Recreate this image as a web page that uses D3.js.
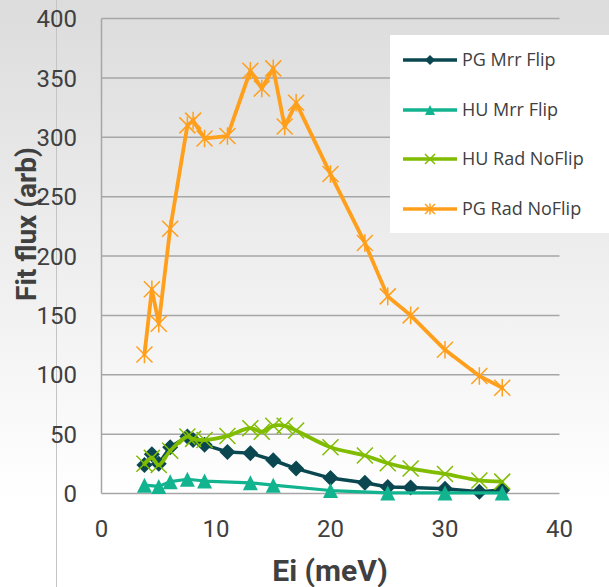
<!DOCTYPE html>
<html><head><meta charset="utf-8">
<script src="https://cdn.jsdelivr.net/npm/d3@7"></script>
<style>html,body{margin:0;padding:0;background:#fff;}svg{display:block;}</style>
</head><body>
<svg id="chart" width="609" height="587"></svg>
<script>
// ---- data ----
const seriesNames = ["PG Mrr Flip", "HU Mrr Flip", "HU Rad NoFlip", "PG Rad NoFlip"];
const pgMrrX = [3.75, 4.4, 5, 6, 7.5, 8, 9, 11, 13, 15, 17, 20, 23, 25, 27, 30, 33, 35];
const pgMrrY = [24, 33, 25, 39, 48, 45, 41, 35, 34, 28, 21, 13, 9, 5.5, 5, 4, 1.5, 3];
const huMrrX = [3.75, 5, 6, 7.5, 9, 13, 15, 20, 25, 30, 35];
const huMrrY = [7, 6, 10, 12, 10.5, 9, 7, 2.5, 0.5, 0.5, 0.5];
const huRadX = [3.75, 4.4, 5, 6, 7.5, 8, 9, 11, 13, 14, 15, 16, 17, 20, 23, 25, 27, 30, 33, 35];
const huRadY = [25, 30, 24, 36, 48, 46, 45, 48.5, 55, 52, 57, 57, 53, 39, 32, 25.5, 21, 16.5, 11, 10];
const pgRadX = [3.75, 4.4, 5, 6, 7.5, 8, 9, 11, 13, 14, 15, 16, 17, 20, 23, 25, 27, 30, 33, 35];
const pgRadY = [117, 172, 143, 223, 310, 314, 299, 301, 356, 341, 358, 309, 329, 269, 211, 166, 150, 121, 99, 89];
const xTicks = [0, 10, 20, 30, 40];
const yTicks = [0, 50, 100, 150, 200, 250, 300, 350, 400];
const xTitle = "Ei (meV)";
const yTitle = "Fit flux (arb)";

const colors = ["#0a4750", "#12b38f", "#80bc00", "#ff9f1c"];
const markers = ["diamond", "triangle", "x", "star"];
const widths = [3.5, 3.2, 3.8, 3.8];
const smooth = [false, false, true, false];
const allX = [pgMrrX, huMrrX, huRadX, pgRadX];
const allY = [pgMrrY, huMrrY, huRadY, pgRadY];

const svg = d3.select("#chart");
const W = 609, H = 587;

// background gradient
const defs = svg.append("defs");
const grad = defs.append("linearGradient").attr("id", "bg").attr("x1", 0).attr("y1", 0).attr("x2", 0).attr("y2", 1);
grad.append("stop").attr("offset", "0%").attr("stop-color", "#dcdcdc");
grad.append("stop").attr("offset", "85%").attr("stop-color", "#ffffff");
grad.append("stop").attr("offset", "100%").attr("stop-color", "#ffffff");
svg.append("rect").attr("width", W).attr("height", H).attr("fill", "url(#bg)");
svg.append("line").attr("x1", 56.5).attr("x2", 56.5).attr("y1", 0).attr("y2", H)
  .attr("stroke", "#c4c4c4").attr("stroke-width", 1);

const x = d3.scaleLinear().domain([0, 40]).range([101.5, 559.5]);
const y = d3.scaleLinear().domain([0, 400]).range([493.5, 18.5]);

// gridlines
svg.append("g").selectAll("line").data(yTicks).join("line")
  .attr("x1", x(0)).attr("x2", x(40))
  .attr("y1", d => y(d)).attr("y2", d => y(d))
  .attr("stroke", "#a6a6a6").attr("stroke-width", 1.5);
svg.append("line").attr("x1", x(0)).attr("x2", x(0)).attr("y1", y(400)).attr("y2", y(0))
  .attr("stroke", "#a6a6a6").attr("stroke-width", 1.5);

const font = "Roboto, 'Open Sans', sans-serif";
// y tick labels
svg.append("g").selectAll("text").data(yTicks).join("text")
  .attr("x", 77).attr("y", d => y(d)).attr("dy", "0.36em")
  .attr("text-anchor", "end").attr("font-family", font).attr("font-size", 24)
  .attr("fill", "#404040").text(d => d);
// x tick labels
svg.append("g").selectAll("text").data(xTicks).join("text")
  .attr("x", d => x(d)).attr("y", 537)
  .attr("text-anchor", "middle").attr("font-family", font).attr("font-size", 24)
  .attr("fill", "#404040").text(d => d);
// titles
svg.append("text").attr("x", 330).attr("y", 581).attr("text-anchor", "middle")
  .attr("font-family", font).attr("font-weight", "bold").attr("font-size", 30)
  .attr("fill", "#404040").text(xTitle);
svg.append("text").attr("transform", "translate(36,224) rotate(-90)").attr("text-anchor", "middle")
  .attr("font-family", font).attr("font-weight", "bold").attr("font-size", 28)
  .attr("fill", "#404040").text(yTitle);

function drawMarker(g, type, cx, cy, color, s) {
  if (type === "diamond") {
    g.append("path").attr("d", `M${cx},${cy - s}L${cx + s},${cy}L${cx},${cy + s}L${cx - s},${cy}Z`).attr("fill", color);
  } else if (type === "triangle") {
    g.append("path").attr("d", `M${cx},${cy - s}L${cx + s},${cy + s}L${cx - s},${cy + s}Z`).attr("fill", color);
  } else if (type === "x") {
    g.append("path").attr("d", `M${cx - s},${cy - s}L${cx + s},${cy + s}M${cx - s},${cy + s}L${cx + s},${cy - s}`)
      .attr("stroke", color).attr("stroke-width", 1.5).attr("fill", "none");
  } else if (type === "star") {
    g.append("path").attr("d", `M${cx - s},${cy - s}L${cx + s},${cy + s}M${cx - s},${cy + s}L${cx + s},${cy - s}M${cx},${cy - s * 1.1}L${cx},${cy + s * 1.1}`)
      .attr("stroke", color).attr("stroke-width", 1.5).attr("fill", "none");
  }
}

const msize = [8, 7.5, 8, 8];
allX.forEach((xs, i) => {
  const pts = xs.map((v, j) => [v, allY[i][j]]);
  const line = d3.line().x(d => x(d[0])).y(d => y(d[1]));
  if (smooth[i]) line.curve(d3.curveCatmullRom.alpha(0.5));
  const g = svg.append("g");
  g.append("path").attr("d", line(pts)).attr("fill", "none").attr("stroke", colors[i])
    .attr("stroke-width", widths[i]).attr("stroke-linejoin", "round").attr("stroke-linecap", "round");
  pts.forEach(p => drawMarker(g, markers[i], x(p[0]), y(p[1]), colors[i], msize[i]));
});

// legend
const lg = svg.append("g");
lg.append("rect").attr("x", 390).attr("y", 35).attr("width", 219).attr("height", 198).attr("fill", "#ffffff");
const legY = [60, 110, 159, 209];
seriesNames.forEach((n, i) => {
  lg.append("line").attr("x1", 403).attr("x2", 457).attr("y1", legY[i]).attr("y2", legY[i])
    .attr("stroke", colors[i]).attr("stroke-width", 3.5);
  drawMarker(lg, markers[i], 430, legY[i], colors[i], 5);
  lg.append("text").attr("x", 462).attr("y", legY[i]).attr("dy", "0.36em")
    .attr("font-family", "'Open Sans', Roboto, sans-serif").attr("font-size", 18).attr("fill", "#404040").text(n);
});
</script>
</body></html>
